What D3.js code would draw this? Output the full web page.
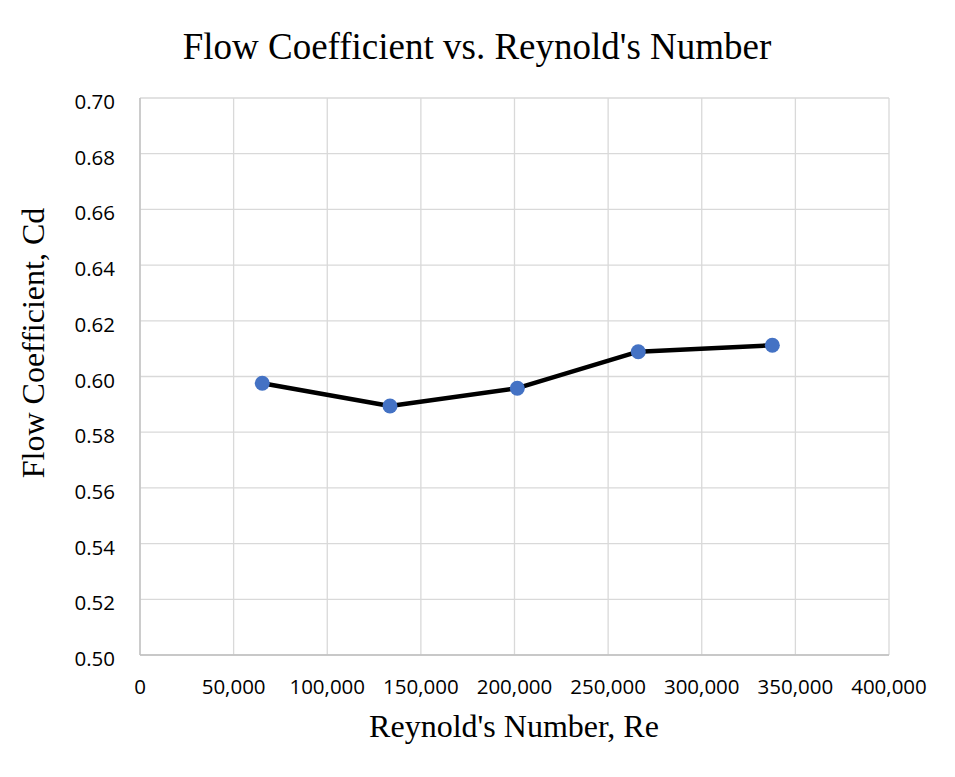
<!DOCTYPE html>
<html><head><meta charset="utf-8">
<script src="https://cdn.jsdelivr.net/npm/d3@7"></script>
<style>body{margin:0;background:#fff}</style>
</head><body>
<svg id="c" width="955" height="777"></svg>
<script>
const reynolds = [65300, 133500, 201500, 266100, 337700];
const cd = [0.5976, 0.5894, 0.5958, 0.6089, 0.6112];
const xTicks = [0, 50000, 100000, 150000, 200000, 250000, 300000, 350000, 400000];
const yTicks = [0.50, 0.52, 0.54, 0.56, 0.58, 0.60, 0.62, 0.64, 0.66, 0.68, 0.70];
const title = "Flow Coefficient vs. Reynold's Number";
const xTitle = "Reynold's Number, Re";
const yTitle = "Flow Coefficient, Cd";

const svg = d3.select("#c");
const L = 140, R = 889, T = 98, B = 655;
const x = d3.scaleLinear().domain([0, 400000]).range([L, R]);
const y = d3.scaleLinear().domain([0.5, 0.7]).range([B, T]);

const tickFont = "'Open Sans', Lato, sans-serif";
const serif = "'Liberation Serif', 'Times New Roman', serif";

// gridlines
svg.append("g").selectAll("line").data(yTicks).join("line")
  .attr("x1", L).attr("x2", R).attr("y1", d => y(d)).attr("y2", d => y(d))
  .attr("stroke", "#d9d9d9").attr("stroke-width", 1.3);
svg.append("g").selectAll("line").data(xTicks).join("line")
  .attr("y1", T).attr("y2", B).attr("x1", d => x(d)).attr("x2", d => x(d))
  .attr("stroke", "#d9d9d9").attr("stroke-width", 1.3);
// axis lines
svg.append("line").attr("x1", L).attr("x2", L).attr("y1", T).attr("y2", B).attr("stroke", "#bfbfbf").attr("stroke-width", 1.3);
svg.append("line").attr("x1", L).attr("x2", R).attr("y1", B).attr("y2", B).attr("stroke", "#bfbfbf").attr("stroke-width", 1.3);

const fmtX = d3.format(",");
svg.append("g").selectAll("text").data(xTicks).join("text")
  .attr("x", d => x(d)).attr("y", 694).attr("text-anchor", "middle")
  .attr("font-family", tickFont).attr("font-size", 20.5).attr("fill", "#000")
  .text(d => fmtX(d));
svg.append("g").selectAll("text").data(yTicks).join("text")
  .attr("x", 115).attr("y", d => y(d) + 11).attr("text-anchor", "end")
  .attr("font-family", tickFont).attr("font-size", 20.5).attr("fill", "#000")
  .text(d => d.toFixed(2));

svg.append("text").attr("x", 477).attr("y", 59).attr("text-anchor", "middle")
  .attr("font-family", serif).attr("font-size", 37).text(title);
svg.append("text").attr("x", 514).attr("y", 737).attr("text-anchor", "middle")
  .attr("font-family", serif).attr("font-size", 32).text(xTitle);
svg.append("text").attr("transform", "translate(44,343) rotate(-90)").attr("text-anchor", "middle")
  .attr("font-family", serif).attr("font-size", 32).text(yTitle);

const pts = reynolds.map((r, i) => [r, cd[i]]);
svg.append("path").datum(pts)
  .attr("d", d3.line().x(d => x(d[0])).y(d => y(d[1])))
  .attr("fill", "none").attr("stroke", "#000").attr("stroke-width", 4.5).attr("stroke-linejoin", "round");
svg.append("g").selectAll("circle").data(pts).join("circle")
  .attr("cx", d => x(d[0])).attr("cy", d => y(d[1])).attr("r", 7.5)
  .attr("fill", "#4472c4");
</script>
</body></html>
